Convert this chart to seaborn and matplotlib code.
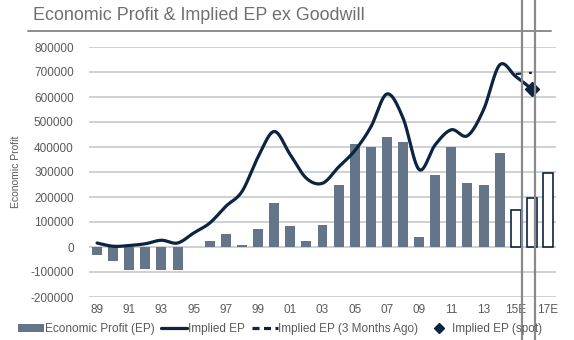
import numpy as np
import pandas as pd
import matplotlib
matplotlib.use("Agg")
import matplotlib.pyplot as plt
from matplotlib.lines import Line2D
from matplotlib.patches import Patch
import seaborn as sns

# ---- data ---------------------------------------------------------------
years = ["89", "90", "91", "92", "93", "94", "95", "96", "97", "98", "99",
         "00", "01", "02", "03", "04", "05", "06", "07", "08", "09", "10",
         "11", "12", "13", "14", "15E", "16E", "17E"]
economic_profit = [-30000, -55000, -90000, -88000, -92000, -90000, 2000,
                   24000, 54000, 9000, 73000, 176000, 85000, 23000, 89000,
                   250000, 413000, 400000, 441000, 419000, 40000, 287000,
                   399000, 256000, 249000, 376000, 148000, 196000, 296000]
estimate_years = ["15E", "16E", "17E"]

implied_years = years[:28]
implied_ep = [16000, 3000, 6000, 13000, 27000, 16000, 56000, 96000, 163000,
              222000, 360000, 462000, 369000, 275000, 255000, 320000,
              385000, 480000, 612000, 516000, 310000, 409000, 469000,
              445000, 549000, 728000, 682000, 632000]
implied_3m_years = ["15E", "16E"]
implied_3m = [692000, 697000]
spot_year = "16E"
spot_value = 632000

yticks = [-200000, -100000, 0, 100000, 200000, 300000, 400000, 500000,
          600000, 700000, 800000]
xtick_labels = ["89", "91", "93", "95", "97", "99", "01", "03", "05", "07",
                "09", "11", "13", "15E", "17E"]

title = "Economic Profit & Implied EP ex Goodwill"
ylabel = "Economic Profit"
legend_labels = ["Economic Profit (EP)", "Implied EP",
                 "Implied EP (3 Months Ago)", "Implied EP (spot)"]

# ---- style --------------------------------------------------------------
sns.set_theme(style="white")
plt.rcParams["font.family"] = ["Liberation Sans", "DejaVu Sans"]

BAR = "#647589"
NAVY = "#0c2341"
GRID = "#c6c9cd"
TXT = "#5a5a5a"


def catmull_rom(x, y, n=24):
    pts = np.column_stack([x, y]).astype(float)
    P = np.vstack([pts[0], pts, pts[-1]])
    t = np.linspace(0, 1, n, endpoint=False)[:, None]
    out = []
    for i in range(1, len(P) - 2):
        p0, p1, p2, p3 = P[i - 1], P[i], P[i + 1], P[i + 2]
        seg = 0.5 * (2 * p1 + (-p0 + p2) * t
                     + (2 * p0 - 5 * p1 + 4 * p2 - p3) * t ** 2
                     + (-p0 + 3 * p1 - 3 * p2 + p3) * t ** 3)
        out.append(seg)
    out.append(pts[-1][None, :])
    out = np.vstack(out)
    return out[:, 0], out[:, 1]


fig = plt.figure(figsize=(5.74, 3.40), dpi=100)
ax = fig.add_axes([89 / 574, 1 - 297 / 340, (556 - 89) / 574, 250 / 340])

df = pd.DataFrame({"year": years, "ep": economic_profit})
sns.barplot(data=df, x="year", y="ep", order=years, color=BAR,
            saturation=1, width=0.62, ax=ax, zorder=2)
for patch, yr in zip(ax.patches, years):
    patch.set_edgecolor("none")
    if yr in estimate_years:
        patch.set_facecolor("white")
        patch.set_edgecolor(NAVY)
        patch.set_linewidth(1.2)

pos = {yr: i for i, yr in enumerate(years)}

# smoothed implied EP curve
xi = [pos[y] for y in implied_years]
sx, sy = catmull_rom(xi, implied_ep)
sns.lineplot(x=sx, y=sy, sort=False, color=NAVY, linewidth=2.3,
             ax=ax, zorder=4)

# three-months-ago estimate
ax.plot([pos[y] for y in implied_3m_years], implied_3m, color=NAVY,
        linewidth=1.6, dashes=(3, 3), zorder=3)

# spot value
ax.plot([pos[spot_year]], [spot_value], marker="D", markersize=7,
        color=NAVY, linestyle="none", zorder=5)

ax.set_ylim(-200000, 800000)
ax.set_xlim(-0.5, len(years) - 0.5)
ax.set_yticks(yticks)
ax.set_yticklabels([str(v) for v in yticks], fontsize=8.5, color=TXT)
ax.set_xticks([pos[y] for y in xtick_labels])
ax.set_xticklabels(xtick_labels, fontsize=8.5, color=TXT)
ax.tick_params(axis="y", length=0, pad=11)
ax.tick_params(axis="x", length=0, pad=5)
ax.yaxis.grid(True, color=GRID, linewidth=1.2, zorder=0)
ax.set_axisbelow(True)
for s in ax.spines.values():
    s.set_visible(False)
ax.set_xlabel("")
ax.set_ylabel(ylabel, fontsize=7.5, color=TXT, labelpad=4)
ax.yaxis.set_label_coords(-0.145, 0.5)

# title and rule beneath it
fig.text(33 / 574, 1 - 15 / 340, title, fontsize=12.9, color="#707070",
         va="center", ha="left")
fig.add_artist(Line2D([28 / 574, 551 / 574], [1 - 30.5 / 340, 1 - 30.5 / 340],
                      color="#8c8c8c", linewidth=1.4))

# legend along the bottom
handles = [Patch(facecolor=BAR, edgecolor="none"),
           Line2D([], [], color=NAVY, linewidth=2.3),
           Line2D([], [], color=NAVY, linewidth=2.3, dashes=(2.2, 1.4)),
           Line2D([], [], color=NAVY, marker="D", markersize=5,
                  linestyle="none")]
fig.legend(handles, legend_labels, loc="center left",
           bbox_to_anchor=(18 / 574, 1 - 329 / 340), ncol=4, frameon=False,
           fontsize=8.5, handlelength=2.2, handletextpad=0.05,
           columnspacing=0.6, borderpad=0, borderaxespad=0,
           labelcolor=TXT, handleheight=0.7)

# vertical frame rules on the right
for xp in (521.5, 534.5):
    fig.add_artist(Line2D([xp / 574, xp / 574], [0, 1], color="#8a8a8a",
                          linewidth=1.6))

fig.savefig("out.png", dpi=100, facecolor="white")
